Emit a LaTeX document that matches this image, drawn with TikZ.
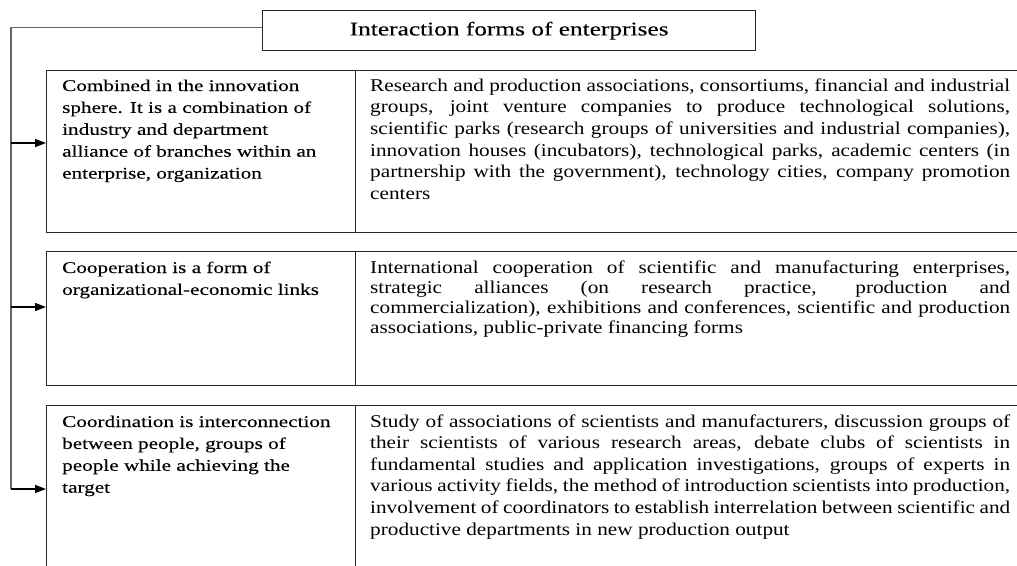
\documentclass[tikz,border=0pt]{standalone}
\usepackage{fontspec}
\setmainfont{Liberation Serif}
\newfontfamily\rfont{Liberation Serif}[FakeStretch=1.18]
\newfontfamily\lfont{Liberation Serif}[FakeStretch=1.3,FakeBold=0.2]
\usetikzlibrary{arrows.meta}
\newcommand{\jl}[1]{\makebox[640pt][s]{#1}\\}
\newcommand{\rtext}[2]{\parbox[t]{640pt}{\rfont\fontsize{18}{#1}\selectfont\raggedright #2}}
\newcommand{\ltext}[1]{\parbox[t]{290pt}{\lfont\fontsize{16.3}{21.9}\selectfont\raggedright #1}}
\begin{document}
\begin{tikzpicture}[x=1pt,y=-1pt,
  cell/.style={draw=black!85, line width=1.3pt, rectangle, inner sep=0pt, anchor=north west},
  lbl/.style={inner sep=0pt, anchor=base west, text=black},
  link/.style={draw=black!60, line width=1.6pt},
  arr/.style={-{Triangle[length=11pt,width=8pt]}, line width=1.3pt, black}]
\useasboundingbox (0,0) rectangle (1017,565);
\clip (0,0) rectangle (1017,565);
% title
\node[cell, minimum width=493pt, minimum height=40pt, anchor=north west, text=black,
      font=\lfont\fontsize{19.5}{22}\selectfont] (title) at (262,10) {Interaction forms of enterprises};
% row 1
\node[cell, minimum width=309pt, minimum height=162pt] (c1) at (46,70) {};
\node[cell, minimum width=700pt, minimum height=162pt] (d1) at (355,70) {};
% row 2
\node[cell, minimum width=309pt, minimum height=134pt] (c2) at (46,251) {};
\node[cell, minimum width=700pt, minimum height=134pt] (d2) at (355,251) {};
% row 3
\node[cell, minimum width=309pt, minimum height=200pt] (c3) at (46,405) {};
\node[cell, minimum width=700pt, minimum height=200pt] (d3) at (355,405) {};
% texts
\node[lbl] (l1) at (62,91) {\ltext{Combined in the innovation\\ sphere. It is a combination of\\ industry and department\\ alliance of branches within an\\ enterprise, organization}};
\node[lbl] (l2) at (62,273) {\ltext{Cooperation is a form of\\ organizational-economic links}};
\node[lbl] (l3) at (62,427) {\ltext{Coordination is interconnection\\ between people, groups of\\ people while achieving the\\ target}};
\node[lbl] (r1) at (370,91) {\rtext{21.7}{%
\jl{Research and production associations, consortiums, financial and industrial}%
\jl{groups, joint venture companies to produce technological solutions,}%
\jl{scientific parks (research groups of universities and industrial companies),}%
\jl{innovation houses (incubators), technological parks, academic centers (in}%
\jl{partnership with the government), technology cities, company promotion}%
centers}};
\node[lbl] (r2) at (370,273) {\rtext{20}{%
\jl{International cooperation of scientific and manufacturing enterprises,}%
\jl{strategic alliances (on research practice, production and}%
\jl{commercialization), exhibitions and conferences, scientific and production}%
associations, public-private financing forms}};
\node[lbl] (r3) at (370,427) {\rtext{21.6}{%
\jl{Study of associations of scientists and manufacturers, discussion groups of}%
\jl{their scientists of various research areas, debate clubs of scientists in}%
\jl{fundamental studies and application investigations, groups of experts in}%
\jl{various activity fields, the method of introduction scientists into production,}%
\jl{involvement of coordinators to establish interrelation between scientific and}%
productive departments in new production output}};
% connectors
\coordinate (j1) at (11,143);
\coordinate (j2) at (11,307);
\coordinate (j3) at (11,489);
\draw[link] ([yshift=3pt]title.west) -| (j3);
\draw[arr] (j1) -- (j1 -| c1.west);
\draw[arr] (j2) -- (j2 -| c2.west);
\draw[arr] (j3) -- (j3 -| c3.west);
\end{tikzpicture}
\end{document}
